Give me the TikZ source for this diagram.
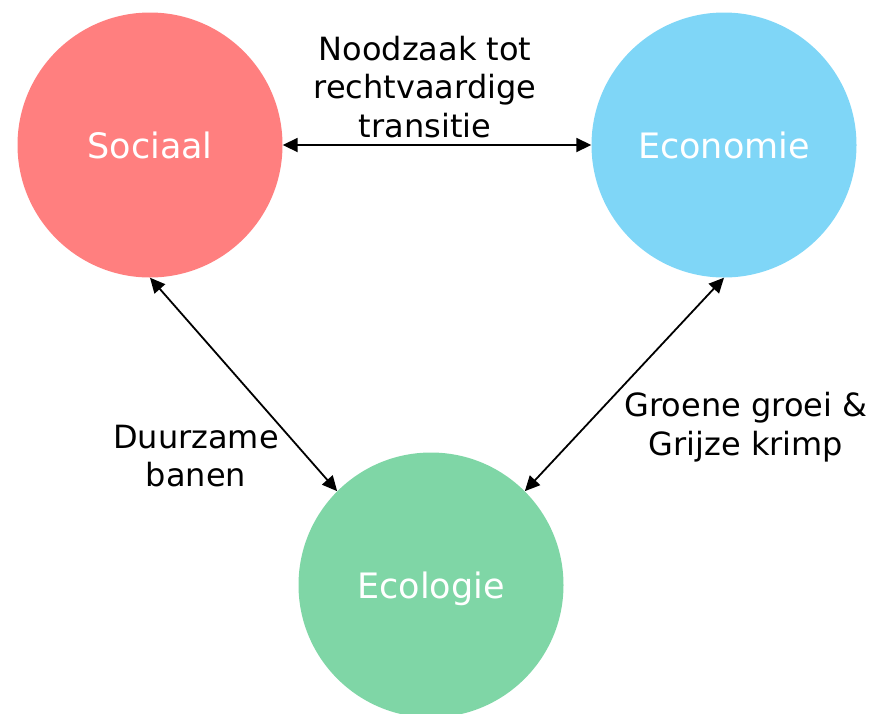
\documentclass[tikz,border=0pt]{standalone}
\usepackage{fontspec}
\setmainfont{DejaVu Sans}
\usetikzlibrary{arrows.meta}
\definecolor{socc}{RGB}{255,127,127}
\definecolor{ecoc}{RGB}{127,214,247}
\definecolor{ecolc}{RGB}{127,214,166}
\tikzset{
  bubble/.style={circle, minimum size=265pt, inner sep=0pt, fill=#1, text=white,
    font=\fontsize{35}{42}\selectfont, text height=27pt, text depth=0pt},
  conn/.style={line width=1.8pt, {Triangle[length=15pt,width=14pt]}-{Triangle[length=15pt,width=14pt]}},
  lbl/.style={align=center, font=\fontsize{32}{38.5}\selectfont, inner sep=0pt}
}
\begin{document}
\begin{tikzpicture}[x=1pt,y=-1pt]
\useasboundingbox (0,0) rectangle (873,713);
\node[bubble=socc] (soc) at (150,145) {Sociaal};
\node[bubble=ecoc] (eco) at (724,145) {Economie};
\node[bubble=ecolc] (ecol) at (431,585) {Ecologie};
\draw[conn] (soc.east) -- (eco.west);
\draw[conn] (soc.south) -- (ecol.north west);
\draw[conn] (eco.south) -- (ecol.north east);
\node[lbl] (t1) at (425,87) {Noodzaak tot\\rechtvaardige\\transitie};
\node[lbl] (t2) at (196,456) {Duurzame\\banen};
\node[lbl] (t3) at (746,427) {Groene groei \&\\Grijze krimp};
\end{tikzpicture}
\end{document}
